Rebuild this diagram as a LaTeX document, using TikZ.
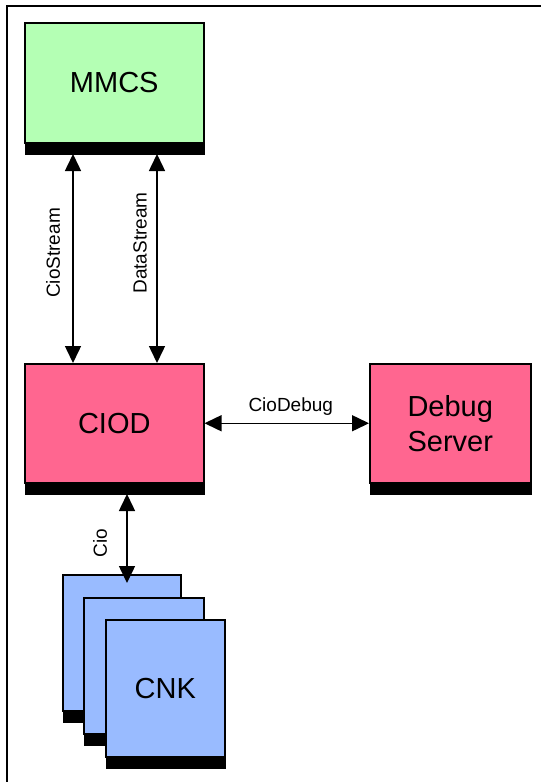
\documentclass[tikz,border=0pt]{standalone}
\usepackage{fontspec}
\setmainfont{Liberation Sans}
\usetikzlibrary{arrows.meta,calc}
\definecolor{mmcsgreen}{RGB}{180,255,180}
\definecolor{ciodpink}{RGB}{255,102,144}
\definecolor{cnkblue}{RGB}{153,187,255}
\begin{document}
\begin{tikzpicture}[x=1pt,y=-1pt,
  box/.style={draw=black,line width=1.5pt,anchor=north west,inner sep=0pt,
    font=\fontsize{29}{35}\selectfont,align=center},
  barbox/.style={fill=black,draw=black,line width=0.5pt,anchor=north,inner sep=0pt,minimum height=10pt},
  lbl/.style={font=\fontsize{19}{22}\selectfont,inner sep=1pt},
  arr/.style={line width=1.5pt,{Triangle[length=17pt,width=16pt]}-{Triangle[length=17pt,width=16pt]}}]
\useasboundingbox (0,0) rectangle (541,782);
% frame
\draw[line width=1.5pt] (7,782) -- (7,6) -- (541,6);
% MMCS
\node[box,fill=mmcsgreen,minimum width=179pt,minimum height=120pt] (mmcs) at (24,22) {MMCS};
\node[barbox,minimum width=179pt] (mmcsbar) at (mmcs.south) {};
% CIOD
\node[box,fill=ciodpink,minimum width=179pt,minimum height=119pt] (ciod) at (24,363) {CIOD};
\node[barbox,minimum width=179pt] (ciodbar) at (ciod.south) {};
% Debug server
\node[box,fill=ciodpink,minimum width=161pt,minimum height=119pt] (dbg) at (369,363) {Debug\\Server};
\node[barbox,minimum width=161pt] (dbgbar) at (dbg.south) {};
% CNK stack
\node[box,fill=cnkblue,minimum width=118pt,minimum height=136pt] (cnka) at (62,574) {};
\node[barbox,minimum width=118pt] (cnkabar) at (cnka.south) {};
\node[box,fill=cnkblue,minimum width=120pt,minimum height=136pt] (cnkb) at (83,597) {};
\node[barbox,minimum width=120pt] (cnkbbar) at (cnkb.south) {};
\node[box,fill=cnkblue,minimum width=119pt,minimum height=137pt] (cnkc) at (105,619) {CNK};
\node[barbox,minimum width=119pt] (cnkcbar) at (cnkc.south) {};
% connectors
\coordinate (xa) at (73,0);
\coordinate (xb) at (157,0);
\coordinate (xc) at (127,0);
\draw[arr] (xa |- mmcsbar.south) -- (xa |- ciod.north);
\draw[arr] (xb |- mmcsbar.south) -- (xb |- ciod.north);
\draw[arr] (ciod.east) -- (dbg.west) node[midway,above=6pt,lbl,xshift=4pt] {CioDebug};
\coordinate (cnktip) at (127,583);
\draw[arr] (xc |- ciodbar.south) -- (cnktip);
% labels
\node[lbl,rotate=90] (l1) at (53,253) {CioStream};
\node[lbl,rotate=90] (l2) at (140,243) {DataStream};
\node[lbl,rotate=90] (l3) at (100,543) {Cio};
\end{tikzpicture}
\end{document}
